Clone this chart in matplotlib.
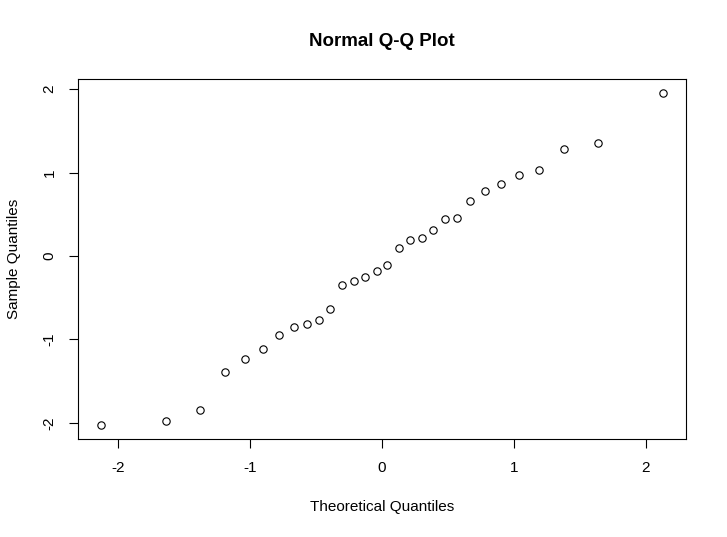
import numpy as np
import matplotlib
matplotlib.use("Agg")
import matplotlib.pyplot as plt

plt.rcParams['font.family'] = ['Liberation Sans', 'DejaVu Sans']

# theoretical normal quantiles (n = 30) and sample values
theoretical = [-2.13, -1.64, -1.38, -1.19, -1.04, -0.90, -0.78, -0.67, -0.57, -0.48,
               -0.39, -0.30, -0.21, -0.13, -0.04, 0.04, 0.13, 0.21, 0.30, 0.39,
               0.48, 0.57, 0.67, 0.78, 0.90, 1.04, 1.19, 1.38, 1.64, 2.13]
sample = [-2.03, -1.98, -1.85, -1.39, -1.23, -1.11, -0.95, -0.85, -0.82, -0.77,
          -0.64, -0.35, -0.30, -0.25, -0.18, -0.11, 0.10, 0.19, 0.21, 0.31,
          0.44, 0.46, 0.66, 0.78, 0.86, 0.97, 1.03, 1.28, 1.35, 1.96]
ticks = [-2, -1, 0, 1, 2]

fig = plt.figure(figsize=(7.27, 5.37), dpi=100)
ax = fig.add_axes([0.1078, 0.1832, 0.8352, 0.6693])

ax.plot(theoretical, sample, linestyle='none', marker='o', markersize=5.3,
        markerfacecolor='none', markeredgecolor='black', markeredgewidth=0.8)

# R style 4% axis extension
def padded(v):
    lo, hi = min(v), max(v)
    d = (hi - lo) * 0.04
    return lo - d, hi + d

ax.set_xlim(*padded(theoretical))
ax.set_ylim(*padded(sample))
ax.set_xticks(ticks)
ax.set_yticks(ticks)
ax.set_xticklabels([str(t) for t in ticks])
ax.set_yticklabels([str(t) for t in ticks], rotation=90, va='center')
ax.tick_params(length=6.8, width=0.8, labelsize=11, pad=9)

for s in ax.spines.values():
    s.set_linewidth(0.8)

ax.set_xlabel('Theoretical Quantiles', fontsize=11)
ax.set_ylabel('Sample Quantiles', fontsize=11)
ax.xaxis.set_label_coords(0.5, -0.190)
ax.yaxis.set_label_coords(-0.106, 0.5)
ax.xaxis.label.set_va('center')
ax.yaxis.label.set_va('center')

ax.set_title('Normal Q-Q Plot', fontsize=13.5, fontweight='bold', y=1.106, pad=0, va='center')

fig.savefig('out.png', dpi=100)
